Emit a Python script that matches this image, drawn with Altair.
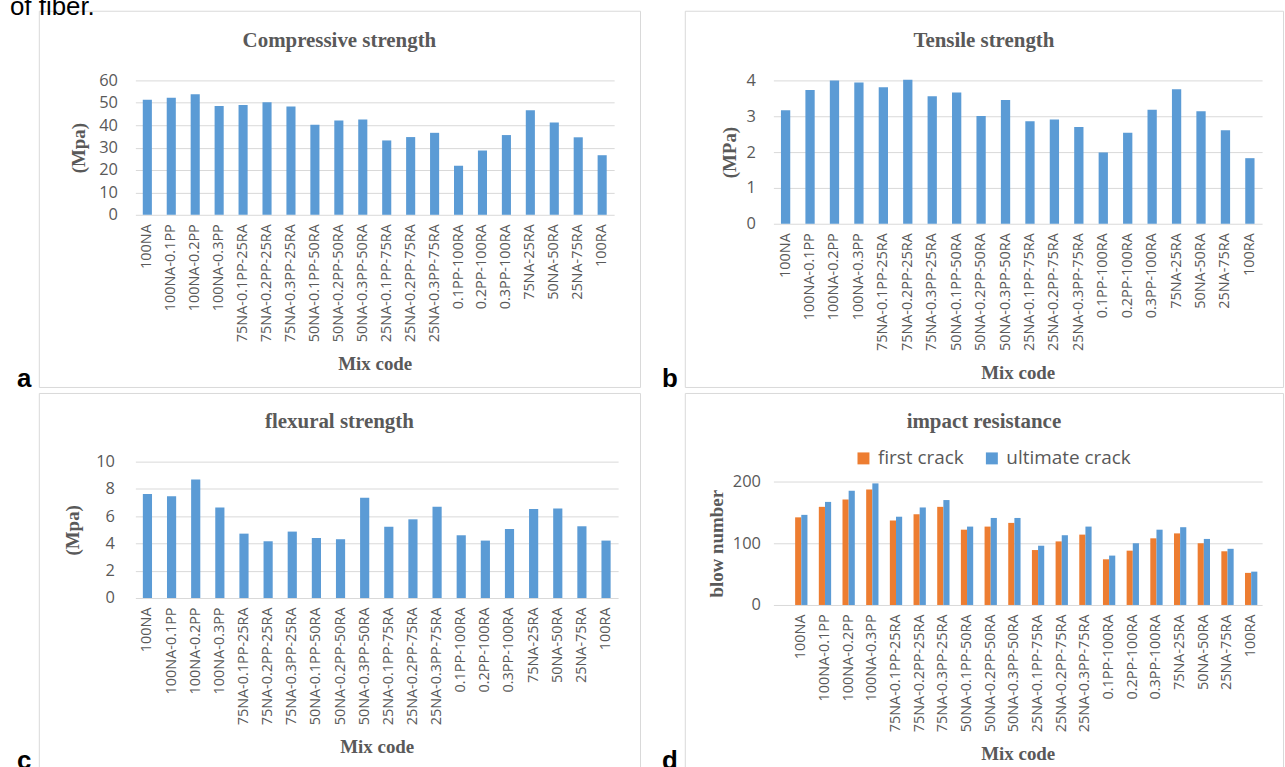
import altair as alt
import pandas as pd

# ---------------- data ----------------
mix_codes = [
    "100NA", "100NA-0.1PP", "100NA-0.2PP", "100NA-0.3PP",
    "75NA-0.1PP-25RA", "75NA-0.2PP-25RA", "75NA-0.3PP-25RA",
    "50NA-0.1PP-50RA", "50NA-0.2PP-50RA", "50NA-0.3PP-50RA",
    "25NA-0.1PP-75RA", "25NA-0.2PP-75RA", "25NA-0.3PP-75RA",
    "0.1PP-100RA", "0.2PP-100RA", "0.3PP-100RA",
    "75NA-25RA", "50NA-50RA", "25NA-75RA", "100RA",
]
compressive = [51.4, 52.3, 53.8, 48.6, 49.0, 50.2, 48.3, 40.2, 42.1, 42.5,
               33.2, 34.7, 36.6, 21.9, 28.7, 35.6, 46.7, 41.2, 34.6, 26.6]
tensile = [3.17, 3.73, 4.0, 3.94, 3.81, 4.02, 3.56, 3.66, 3.01, 3.45,
           2.86, 2.91, 2.70, 1.99, 2.54, 3.18, 3.75, 3.14, 2.61, 1.83]
flexural = [7.62, 7.47, 8.69, 6.64, 4.72, 4.16, 4.87, 4.40, 4.31, 7.35,
            5.23, 5.77, 6.69, 4.60, 4.21, 5.06, 6.52, 6.57, 5.26, 4.21]
first_crack = [142, 159, 171, 187, 137, 147, 159, 122, 127, 133,
               89, 103, 114, 74, 88, 108, 116, 100, 87, 52]
ultimate_crack = [146, 167, 185, 197, 143, 158, 170, 127, 141, 141,
                  96, 113, 127, 80, 100, 122, 126, 107, 91, 54]
series_names = ["first crack", "ultimate crack"]

comp_ticks = [0, 10, 20, 30, 40, 50, 60]
tens_ticks = [0, 1, 2, 3, 4]
flex_ticks = [0, 2, 4, 6, 8, 10]
impact_ticks = [0, 100, 200]

# ---------------- style ----------------
BLUE = "#5B9BD5"
ORANGE = "#ED7D31"
GRID = "#D9D9D9"
BORDER = "#D9D9D9"
TXT = "#595959"
SERIF = "Liberation Serif"
SANS = "Open Sans"
ARIAL = "Liberation Sans"
TITLE_SIZE = 21

one = pd.DataFrame({"k": [0]})


def box(x1, x2, y1, y2):
    return alt.Chart(one).mark_rect(fillOpacity=0, stroke=BORDER, strokeWidth=1).encode(
        x=alt.value(x1), x2=alt.value(x2), y=alt.value(y1), y2=alt.value(y2)
    )


def label(txt, x, y, size, font, weight="normal", color=TXT, align="center", baseline="middle"):
    return alt.Chart(one).mark_text(
        text=txt, font=font, fontSize=size, fontWeight=weight, color=color,
        align=align, baseline=baseline
    ).encode(x=alt.value(x), y=alt.value(y))


def y_axis(title, values, title_x, title_y, pad):
    return alt.Axis(
        title=title, values=values, grid=True, gridColor=GRID, gridWidth=1,
        domain=False, ticks=False, labelFont=SANS, labelFontSize=16.5,
        labelColor=TXT, labelPadding=pad, titleFont=SERIF, titleFontSize=19,
        titleFontWeight="bold", titleColor=TXT, titleX=title_x, titleY=title_y,
        titleBaseline="middle", titleAngle=270,
    )


def x_axis():
    return alt.Axis(
        title="Mix code", labelAngle=270, labelFont=SANS, labelFontSize=14.5,
        labelColor=TXT, labelPadding=9, domain=False, ticks=False, grid=False,
        labelOverlap=False, titleFont=SERIF, titleFontSize=19,
        titleFontWeight="bold", titleColor=TXT, titleY=149, titleBaseline="middle",
    )


def single_panel(values, ticks, ymax, ytitle, title_x, title_y, pad):
    df = pd.DataFrame({"mix": mix_codes, "value": values})
    return alt.Chart(df).mark_bar(color=BLUE).encode(
        x=alt.X("mix:N", sort=mix_codes,
                scale=alt.Scale(paddingInner=0.62, paddingOuter=0.31),
                axis=x_axis()),
        y=alt.Y("value:Q", scale=alt.Scale(domain=[0, ymax], nice=False),
                axis=y_axis(ytitle, ticks, title_x, title_y, pad)),
    )


# panel a (plot origin 136,79)
wa, ha = 481, 135
pa = alt.layer(
    box(-96.5, 507.5, -69.5, 308.5),
    single_panel(compressive, comp_ticks, 60, "(Mpa)", -57, 67.5, 18),
    label("Compressive strength", 205, -40, TITLE_SIZE, SERIF, "bold"),
    label("a", -119, 308, 26, ARIAL, "bold", "black", "left", "alphabetic"),
    label("of fiber.", -126, -66, 26, ARIAL, "normal", "black", "left", "alphabetic"),
).properties(width=wa, height=ha)

# panel b (plot origin 771,79)
wb, hb = 491, 144
pb = alt.layer(
    box(-88.5, 512.5, -69.5, 308.5),
    single_panel(tensile, tens_ticks, 4, "(MPa)", -44, 72, 18),
    label("Tensile strength", 211.5, -40, TITLE_SIZE, SERIF, "bold"),
    label("b", -112, 308, 26, ARIAL, "bold", "black", "left", "alphabetic"),
).properties(width=wb, height=hb)

# panel c (plot origin 136,462)
wc, hc = 485, 137
pc = alt.layer(
    box(-96.5, 507.5, -68.5, 338),
    single_panel(flexural, flex_ticks, 10, "(Mpa)", -63, 68.5, 21),
    label("flexural strength", 205, -40, TITLE_SIZE, SERIF, "bold"),
    label("c", -119, 309, 26, ARIAL, "bold", "black", "left", "alphabetic"),
).properties(width=wc, height=hc)

# panel d (plot origin 771,462)
wd, hd = 491, 144
df_d = pd.DataFrame({
    "mix": mix_codes * 2,
    "series": [series_names[0]] * len(mix_codes) + [series_names[1]] * len(mix_codes),
    "value": first_crack + ultimate_crack,
})
bars_d = alt.Chart(df_d).mark_bar().encode(
    x=alt.X("mix:N", sort=mix_codes,
            scale=alt.Scale(paddingInner=0.48, paddingOuter=0.56, align=0.82),
            axis=x_axis()),
    xOffset=alt.XOffset("series:N", sort=series_names,
                        scale=alt.Scale(paddingInner=0, paddingOuter=0)),
    y=alt.Y("value:Q", scale=alt.Scale(domain=[0, 232.26], nice=False),
            axis=y_axis("blow number", impact_ticks, -57, 82, 13)),
    color=alt.Color("series:N",
                    scale=alt.Scale(domain=series_names, range=[ORANGE, BLUE]),
                    legend=alt.Legend(title=None, orient="none", legendX=722, legendY=370,
                                      direction="horizontal", symbolType="square",
                                      symbolSize=144, symbolStrokeWidth=0,
                                      labelFont=SANS, labelFontSize=19, labelColor=TXT,
                                      labelOffset=5, columnPadding=18, padding=0)),
)
pd_ = alt.layer(
    box(-88.5, 512.5, -68.5, 338),
    bars_d,
    label("impact resistance", 211.5, -40, TITLE_SIZE, SERIF, "bold"),
    label("d", -112, 309, 26, ARIAL, "bold", "black", "left", "alphabetic"),
).properties(width=wd, height=hd)

chart = alt.concat(
    pa, pb, pc, pd_, columns=2,
    spacing={"row": 239, "column": 150}, bounds="flush", align="all",
).properties(
    padding={"left": 10, "top": -8, "right": 1, "bottom": -33.5},
    background="white",
).configure_view(strokeWidth=0)

chart.save("out.html", embed_options={"renderer": "svg", "actions": False})
